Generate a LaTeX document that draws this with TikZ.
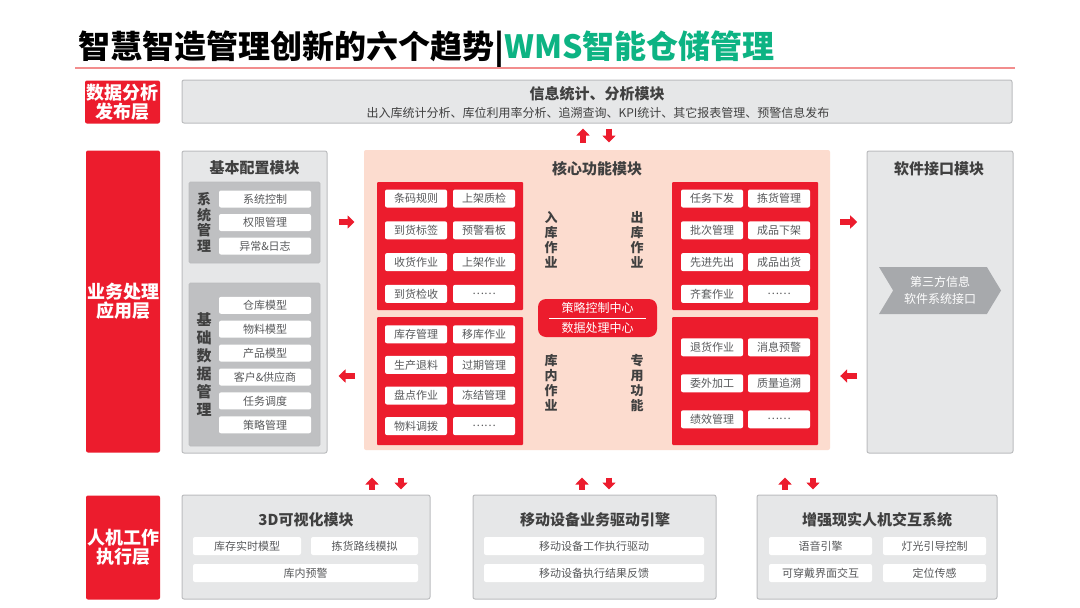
\documentclass[tikz,border=0pt]{standalone}
\usepackage{fontspec}
\setmainfont{Noto Sans CJK SC}
\usetikzlibrary{positioning,arrows.meta,shapes.symbols}

\definecolor{wmsred}{HTML}{EC1C2D}
\definecolor{wmsgreen}{HTML}{0DB383}
\definecolor{panelgray}{HTML}{E6E7E8}
\definecolor{panelline}{HTML}{BCBDBF}
\definecolor{groupgray}{HTML}{BFC0C2}
\definecolor{peach}{HTML}{FCDCCF}
\definecolor{textgray}{HTML}{404040}
\definecolor{itemgray}{HTML}{58595B}
\definecolor{chevgray}{HTML}{A7A9AC}
\definecolor{rulepink}{HTML}{F28D8D}

\tikzset{
  layer/.style={fill=wmsred, rounded corners=2pt, text=white, align=center,
    inner sep=0pt, font=\fontsize{18}{19}\selectfont\bfseries},
  panel/.style={fill=panelgray, draw=panelline, line width=1pt, rounded corners=2pt, inner sep=0pt},
  group/.style={fill=groupgray, draw=panelline, line width=0.8pt, rounded corners=1.5pt, inner sep=0pt},
  redblock/.style={fill=wmsred, rounded corners=1pt, inner sep=0pt},
  item/.style={fill=white, rounded corners=2pt, text=itemgray, inner sep=0pt,
    minimum height=17, font=\fontsize{11}{12}\selectfont},
  ptitle/.style={text=textgray, font=\fontsize{15}{16}\selectfont\bfseries},
  vlabel/.style={text=textgray, align=center, inner sep=0pt, font=\fontsize{13}{15}\selectfont\bfseries},
  blockarrow/.style={wmsred, line width=6pt, -{Triangle[width=13pt,length=7pt]}}
}

\begin{document}
\begin{tikzpicture}[x=1pt, y=-1pt]
  \fill[white] (0,0) rectangle (1080,608);
  \useasboundingbox (0,0) rectangle (1080,608);

  % Title
  \node[anchor=base west, inner sep=0pt, font=\fontsize{32}{32}\selectfont\bfseries] (title) at (78,58)
    {智慧智造管理创新的六个趋势|\textcolor{wmsgreen}{WMS智能仓储管理}};
  \draw[rulepink, line width=2pt] (75,68) -- (1015,68);

  % Layer labels
  \node[layer, minimum width=75, minimum height=43] (pub) at (122.5,102) {数据分析\\发布层};
  \node[layer, minimum width=74, minimum height=302] (biz) at (123,301.5) {业务处理\\应用层};
  \node[layer, minimum width=74, minimum height=104] (hmi) at (123,547.5) {人机工作\\执行层};

  % Data analysis layer
  \node[panel, minimum width=830, minimum height=43] (info) at (597,101.5) {};
  \node[ptitle] (infot) at (597,94) {信息统计、分析模块};
  \node[text=textgray, font=\fontsize{12}{12}\selectfont] (infos) at (598,113)
    {出入库统计分析、库位利用率分析、追溯查询、KPI统计、其它报表管理、预警信息发布};

  % Basic configuration module
  \node[panel, minimum width=145, minimum height=302] (base) at (254.5,302) {};
  \node[ptitle] (baset) at (254.5,168) {基本配置模块};
  \node[group, minimum width=131, minimum height=81] (sysg) at (254.5,222.5) {};
  \node[vlabel, font=\fontsize{14}{15.5}\selectfont\bfseries] (syst) at (204,222.5) {系\\统\\管\\理};
  \foreach \t [count=\i] in {系统控制,权限管理,异常\&日志}
    \node[item, minimum width=92] (sys-\i) at (265,{175.5+23.5*\i}) {\t};
  \node[group, minimum width=131, minimum height=163] (datag) at (254.5,364.5) {};
  \node[vlabel, font=\fontsize{15}{18}\selectfont\bfseries] (datat) at (204,365) {基\\础\\数\\据\\管\\理};
  \foreach \t [count=\i] in {仓库模型,物料模型,产品模型,客户\&供应商,任务调度,策略管理}
    \node[item, minimum width=92] (data-\i) at (265,{281.4+23.9*\i}) {\t};

  % Core function module
  \node[fill=peach, rounded corners=2pt, minimum width=466, minimum height=300] (core) at (597,300) {};
  \node[ptitle] (coret) at (597,169) {核心功能模块};
  \node[redblock, minimum width=146, minimum height=128] (inb) at (450,246) {};
  \node[redblock, minimum width=146, minimum height=128] (stock) at (450,381) {};
  \node[redblock, minimum width=146, minimum height=128] (outb) at (745,246) {};
  \node[redblock, minimum width=146, minimum height=128] (spec) at (745,381) {};
  \foreach \a/\b [count=\i] in {条码规则/上架质检,到货标签/预警看板,收货作业/上架作业,到货检收/……} {
    \node[item, minimum width=62, minimum height=18] (in-\i-a) at (416,{166.7+31.8*\i}) {\a};
    \node[item, minimum width=62, minimum height=18] (in-\i-b) at (484,{166.7+31.8*\i}) {\b};
  }
  \foreach \a/\b [count=\i] in {库存管理/移库作业,生产退料/过期管理,盘点作业/冻结管理,物料调拨/……} {
    \node[item, minimum width=62, minimum height=18] (st-\i-a) at (416,{303.7+30.6*\i}) {\a};
    \node[item, minimum width=62, minimum height=18] (st-\i-b) at (484,{303.7+30.6*\i}) {\b};
  }
  \foreach \a/\b [count=\i] in {任务下发/拣货管理,批次管理/成品下架,先进先出/成品出货,齐套作业/……} {
    \node[item, minimum width=62, minimum height=18] (out-\i-a) at (712,{166.7+31.8*\i}) {\a};
    \node[item, minimum width=62, minimum height=18] (out-\i-b) at (779,{166.7+31.8*\i}) {\b};
  }
  \foreach \a/\b [count=\i] in {退货作业/消息预警,委外加工/质量追溯,绩效管理/……} {
    \node[item, minimum width=62, minimum height=18] (sp-\i-a) at (712,{311.3+36*\i}) {\a};
    \node[item, minimum width=62, minimum height=18] (sp-\i-b) at (779,{311.3+36*\i}) {\b};
  }
  \node[vlabel] (inbt) at (551,240) {入\\库\\作\\业};
  \node[vlabel] (outbt) at (637,240) {出\\库\\作\\业};
  \node[vlabel] (stockt) at (551,383) {库\\内\\作\\业};
  \node[vlabel] (spect) at (637,383) {专\\用\\功\\能};
  % Strategy / data hub
  \node[fill=wmsred, rounded corners=8pt, minimum width=119, minimum height=38] (hub) at (597.5,318) {};
  \node[text=white, font=\fontsize{12}{13}\selectfont] (hub1) at ([yshift=10pt]hub.center) {策略控制中心};
  \node[text=white, font=\fontsize{12}{13}\selectfont] (hub2) at ([yshift=-10pt]hub.center) {数据处理中心};
  \draw[white, line width=0.6pt] ([xshift=-48.5pt]hub.center) -- ([xshift=48.5pt]hub.center);

  % Software interface module
  \node[panel, minimum width=146, minimum height=302] (api) at (940,302) {};
  \node[ptitle] (apit) at (939,169) {软件接口模块};
  \node[signal, signal from=west, signal to=east, signal pointer angle=118, fill=chevgray,
    minimum width=122, minimum height=47, inner sep=0pt, text=white, align=center,
    font=\fontsize{12}{17}\selectfont] (third) at (940,290.5) {第三方信息\\软件系统接口};

  % Human-machine layer
  \node[panel, minimum width=248, minimum height=104] (vis) at (306,547) {};
  \node[ptitle] (vist) at (306,520) {3D可视化模块};
  \node[item, minimum width=108, minimum height=18] (vis-1) at (247,546) {库存实时模型};
  \node[item, minimum width=107, minimum height=18] (vis-2) at (364.5,546) {拣货路线模拟};
  \node[item, minimum width=225, minimum height=18] (vis-3) at (305.5,573) {库内预警};
  \node[panel, minimum width=243, minimum height=104] (mob) at (594.5,547) {};
  \node[ptitle] (mobt) at (595,520) {移动设备业务驱动引擎};
  \node[item, minimum width=220, minimum height=18] (mob-1) at (594,546) {移动设备工作执行驱动};
  \node[item, minimum width=220, minimum height=18] (mob-2) at (594,573) {移动设备执行结果反馈};
  \node[panel, minimum width=240, minimum height=104] (ar) at (877,547) {};
  \node[ptitle] (art) at (877,520) {增强现实人机交互系统};
  \node[item, minimum width=103, minimum height=18] (ar-1) at (820.5,546) {语音引擎};
  \node[item, minimum width=103, minimum height=18] (ar-2) at (934.5,546) {灯光引导控制};
  \node[item, minimum width=103, minimum height=18] (ar-3) at (820.5,573) {可穿戴界面交互};
  \node[item, minimum width=103, minimum height=18] (ar-4) at (934.5,573) {定位传感};

  % Arrows
  \draw[blockarrow] ([xshift=-14pt,yshift=-19pt]info.south) -- ([xshift=-14pt,yshift=-5pt]info.south);
  \draw[blockarrow] ([xshift=12pt,yshift=-5pt]info.south) -- ([xshift=12pt,yshift=-19pt]info.south);
  \draw[blockarrow] ([xshift=11pt,yshift=80pt]base.east) -- ([xshift=27pt,yshift=80pt]base.east);
  \draw[blockarrow] ([xshift=27pt,yshift=-74pt]base.east) -- ([xshift=11pt,yshift=-74pt]base.east);
  \draw[blockarrow] ([xshift=10pt,yshift=78pt]core.east) -- ([xshift=27pt,yshift=78pt]core.east);
  \draw[blockarrow] ([xshift=27pt,yshift=-76pt]core.east) -- ([xshift=10pt,yshift=-76pt]core.east);
  \draw[blockarrow] ([xshift=66pt,yshift=5pt]vis.north) -- ([xshift=66pt,yshift=17pt]vis.north);
  \draw[blockarrow] ([xshift=95pt,yshift=17pt]vis.north) -- ([xshift=95pt,yshift=5pt]vis.north);
  \draw[blockarrow] ([xshift=-12.5pt,yshift=5pt]mob.north) -- ([xshift=-12.5pt,yshift=17pt]mob.north);
  \draw[blockarrow] ([xshift=14.5pt,yshift=17pt]mob.north) -- ([xshift=14.5pt,yshift=5pt]mob.north);
  \draw[blockarrow] ([xshift=-92pt,yshift=5pt]ar.north) -- ([xshift=-92pt,yshift=17pt]ar.north);
  \draw[blockarrow] ([xshift=-64pt,yshift=17pt]ar.north) -- ([xshift=-64pt,yshift=5pt]ar.north);
\end{tikzpicture}
\end{document}
